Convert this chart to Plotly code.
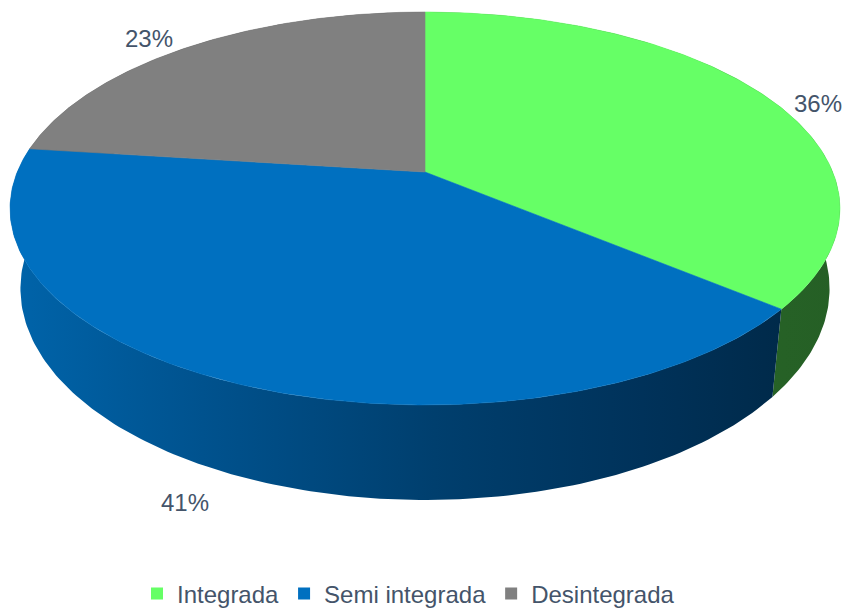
import numpy as np
import plotly.graph_objects as go

# ---- data ----
categories = ["Integrada", "Semi integrada", "Desintegrada"]
values = [36, 41, 23]
labels = ["36%", "41%", "23%"]

# ---- styles ----
top_colors = ["#66FF66", "#0070C0", "#808080"]
side_scales = [
    [[0, "#2C6E2C"], [1, "#255F25"]],
    [[0, "#0064AA"], [0.25, "#00528E"], [0.55, "#003F6E"], [0.82, "#00325A"], [1, "#002A4A"]],
    [[0, "#505050"], [1, "#404040"]],
]
W, H = 847, 609
CX, S, D, YH, C, T, U = 425.0, 2196.0, 5.386, -849.7, 5503.0, 0.0757, 0.025
label_r = [1.17, 1.2, 1.2]
label_h = [0.25, 0.7, 0.2]
FONT = "Liberation Sans, Arial, sans-serif"
TXT = "#44546A"


def proj(phi, r=1.0, h=0.0):
    X = r * np.sin(phi)
    Z = -r * np.cos(phi)
    d = D - Z
    x = CX + S * (1 - U * h) * X / d
    y = YH + C * (1 + T * h) / d
    return x, y


total = float(sum(values))
bounds = np.concatenate([[0], np.cumsum(values)]) / total * 2 * np.pi

fig = go.Figure()

# side walls, back to front
walls = []
for i in range(len(values)):
    a0, a1 = bounds[i], bounds[i + 1]
    ph = np.linspace(a0, a1, 160)
    xt, yt = proj(ph, 1, 0)
    xb, yb = proj(ph[::-1], 1, 1)
    xs = np.concatenate([xt, xb, xt[:1]])
    ys = np.concatenate([yt, yb, yt[:1]])
    meanz = np.mean(-np.cos(ph))
    walls.append((meanz, i, xs, ys))
walls.sort(key=lambda w: w[0])
for _, i, xs, ys in walls:
    fig.add_trace(go.Scatter(
        x=xs, y=ys, mode="lines", fill="toself", line=dict(width=0),
        fillgradient=dict(type="horizontal", colorscale=side_scales[i],
                          start=float(xs.min()), stop=float(xs.max())),
        hoverinfo="skip", showlegend=False))

# top faces
for i in range(len(values)):
    a0, a1 = bounds[i], bounds[i + 1]
    ph = np.linspace(a0, a1, 200)
    xt, yt = proj(ph, 1, 0)
    cx0, cy0 = proj(0.0, 0.0, 0)
    xs = np.concatenate([[cx0], xt, [cx0]])
    ys = np.concatenate([[cy0], yt, [cy0]])
    fig.add_trace(go.Scatter(
        x=xs, y=ys, mode="lines", fill="toself", fillcolor=top_colors[i],
        line=dict(width=0.6, color=top_colors[i]),
        hoverinfo="skip", showlegend=False))

# labels
for i in range(len(values)):
    mid = (bounds[i] + bounds[i + 1]) / 2
    lx, ly = proj(mid, label_r[i], label_h[i])
    fig.add_annotation(x=lx, y=ly, text=labels[i], showarrow=False,
                       font=dict(family=FONT, size=24, color=TXT))

# legend entries
for i, name in enumerate(categories):
    fig.add_trace(go.Scatter(
        x=[None], y=[None], mode="markers", name=name,
        marker=dict(symbol="square", size=11, color=top_colors[i]),
        showlegend=True))

fig.update_layout(
    width=W, height=H, autosize=False,
    margin=dict(l=0, r=0, t=0, b=0, autoexpand=False),
    paper_bgcolor="white", plot_bgcolor="white",
    xaxis=dict(range=[0, W], visible=False, fixedrange=True),
    yaxis=dict(range=[H, 0], visible=False, fixedrange=True),
    showlegend=True,
    legend=dict(orientation="h", x=137 / W, xanchor="left", y=-0.012, yanchor="bottom",
                font=dict(family=FONT, size=24, color=TXT),
                bgcolor="rgba(0,0,0,0)", itemsizing="constant"),
)

fig.write_html(
    "out.html",
    config={"displayModeBar": False},
    post_script="document.body.style.margin='0px';document.body.style.overflow='hidden';",
)
